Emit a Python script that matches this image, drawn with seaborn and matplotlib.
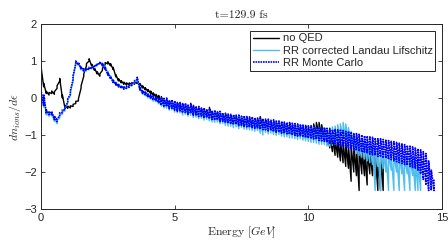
import numpy as np
import pandas as pd
import matplotlib
matplotlib.use('Agg')
import matplotlib.pyplot as plt
import seaborn as sns

# energy bins [GeV], 0.1 GeV wide
energy = np.round(np.arange(148) * 0.1, 1)

# lower / upper edge of each spectrum inside every energy bin (noisy data)
noqed_lo = [
    0.80, 0.30, 0.12, 0.08, 0.12, 0.10, 0.26, 0.46, 0.00, -0.28,
    -0.28, -0.27, -0.23, -0.15, -0.08, 0.27, 0.59, 0.87, 1.00, 0.85,
    0.75, 0.65, 0.59, 0.75, 0.90, 0.92, 0.87, 0.77, 0.57, 0.46,
    0.41, 0.37, 0.35, 0.35, 0.36, 0.37, 0.39, 0.33, 0.27, 0.22,
    0.17, 0.12, 0.06, 0.02, -0.02, -0.14, -0.17, -0.19, -0.22, -0.24,
    -0.27, -0.30, -0.31, -0.34, -0.35, -0.38, -0.39, -0.42, -0.43, -0.45,
    -0.46, -0.49, -0.50, -0.52, -0.54, -0.56, -0.58, -0.60, -0.62, -0.65,
    -0.66, -0.68, -0.69, -0.71, -0.72, -0.74, -0.75, -0.77, -0.78, -0.79,
    -0.80, -0.81, -0.83, -0.84, -0.85, -0.87, -0.88, -0.90, -0.91, -0.93,
    -0.94, -0.96, -0.97, -0.99, -1.00, -1.02, -1.03, -1.05, -1.06, -1.08,
    -1.09, -1.10, -1.05, -1.00, -0.98, -1.05, -1.15, -1.25, -1.35, -1.45,
    -1.55, -1.60, -1.70, -1.75, -1.85, -1.90, -2.25, -2.00, -2.10, -2.50,
    -2.05, -2.10, -2.35, -2.05, -2.10, -2.20, -2.50, -2.50, -2.50,
]
noqed_hi = [
    0.86, 0.40, 0.18, 0.15, 0.19, 0.17, 0.33, 0.53, 0.08, -0.20,
    -0.22, -0.21, -0.17, -0.09, -0.02, 0.33, 0.65, 0.93, 1.06, 0.91,
    0.81, 0.71, 0.65, 0.81, 0.96, 0.98, 0.93, 0.83, 0.63, 0.52,
    0.47, 0.43, 0.41, 0.41, 0.42, 0.43, 0.45, 0.39, 0.33, 0.28,
    0.23, 0.19, 0.14, 0.10, 0.07, 0.04, -0.04, -0.05, -0.08, -0.10,
    -0.12, -0.14, -0.16, -0.18, -0.19, -0.21, -0.14, -0.24, -0.25, -0.26,
    -0.29, -0.30, -0.32, -0.25, -0.36, -0.37, -0.39, -0.41, -0.43, -0.45,
    -0.47, -0.48, -0.49, -0.50, -0.51, -0.52, -0.53, -0.54, -0.55, -0.56,
    -0.57, -0.57, -0.50, -0.58, -0.61, -0.62, -0.64, -0.65, -0.66, -0.68,
    -0.69, -0.70, -0.71, -0.73, -0.74, -0.75, -0.76, -0.78, -0.79, -0.80,
    -0.81, -0.74, -0.70, -0.66, -0.66, -0.72, -0.80, -0.90, -1.00, -1.05,
    -1.10, -1.12, -1.15, -1.18, -1.20, -1.25, -1.28, -1.30, -1.32, -1.35,
    -1.38, -1.40, -1.42, -1.45, -1.48, -1.50, -1.55, -1.60, -1.70,
]

ll_lo = [
    -0.75, -0.25, -0.46, -0.50, -0.48, -0.63, -0.70, -0.55, -0.44, -0.35,
    -0.15, 0.06, 0.45, 0.90, 0.88, 0.76, 0.71, 0.73, 0.76, 0.79,
    0.82, 0.87, 0.91, 0.88, 0.80, 0.66, 0.54, 0.43, 0.37, 0.32,
    0.27, 0.24, 0.25, 0.28, 0.33, 0.40, 0.47, 0.20, 0.10, 0.06,
    0.00, -0.03, -0.09, -0.10, -0.16, -0.22, -0.27, -0.28, -0.33, -0.32,
    -0.38, -0.40, -0.40, -0.46, -0.44, -0.49, -0.47, -0.53, -0.52, -0.56,
    -0.55, -0.60, -0.58, -0.62, -0.65, -0.66, -0.65, -0.70, -0.69, -0.74,
    -0.76, -0.76, -0.80, -0.78, -0.83, -0.80, -0.84, -0.85, -0.86, -0.88,
    -0.90, -0.88, -0.95, -1.00, -0.93, -0.97, -0.95, -0.99, -1.01, -0.99,
    -1.03, -1.05, -1.05, -1.08, -1.08, -1.10, -1.12, -1.10, -1.14, -1.16,
    -1.17, -1.20, -1.20, -1.22, -1.25, -1.25, -1.26, -1.30, -1.30, -1.28,
    -1.25, -1.20, -1.15, -1.10, -1.12, -1.20, -1.30, -1.40, -1.50, -1.55,
    -1.60, -1.65, -1.70, -1.75, -1.80, -2.50, -1.85, -2.50, -1.90, -2.00,
    -2.50, -1.95, -2.50, -2.00, -2.50, -2.05, -2.50, -2.05, -2.50, -2.10,
    -2.50, -2.50, -2.50,
]
ll_hi = [
    0.15, 0.05, -0.36, -0.40, -0.40, -0.54, -0.60, -0.45, -0.36, -0.26,
    -0.05, 0.16, 0.55, 0.98, 0.94, 0.82, 0.77, 0.79, 0.82, 0.85,
    0.88, 0.93, 0.97, 0.94, 0.86, 0.72, 0.60, 0.49, 0.43, 0.38,
    0.33, 0.30, 0.31, 0.34, 0.39, 0.46, 0.53, 0.28, 0.18, 0.14,
    0.08, 0.05, 0.00, 0.00, -0.04, 0.00, -0.04, -0.03, -0.09, -0.08,
    -0.12, -0.15, -0.15, -0.19, -0.18, -0.22, -0.21, -0.24, -0.27, -0.27,
    -0.30, -0.31, -0.34, -0.33, -0.37, -0.37, -0.40, -0.40, -0.44, -0.45,
    -0.47, -0.48, -0.49, -0.50, -0.50, -0.52, -0.52, -0.54, -0.55, -0.55,
    -0.57, -0.58, -0.58, -0.60, -0.61, -0.61, -0.64, -0.63, -0.66, -0.66,
    -0.67, -0.69, -0.70, -0.70, -0.72, -0.72, -0.74, -0.74, -0.76, -0.77,
    -0.78, -0.78, -0.78, -0.80, -0.80, -0.82, -0.80, -0.82, -0.80, -0.78,
    -0.76, -0.72, -0.70, -0.66, -0.70, -0.80, -0.90, -0.95, -1.00, -1.05,
    -1.10, -1.15, -1.20, -1.22, -1.30, -1.35, -1.40, -1.42, -1.45, -1.45,
    -1.50, -1.50, -1.50, -1.52, -1.55, -1.55, -1.58, -1.60, -1.60, -1.62,
    -1.65, -1.70, -1.80,
]

mc_lo = [
    -0.78, -0.20, -0.42, -0.45, -0.45, -0.58, -0.64, -0.50, -0.40, -0.32,
    -0.12, 0.10, 0.50, 0.93, 0.90, 0.78, 0.73, 0.74, 0.77, 0.79,
    0.83, 0.87, 0.92, 0.87, 0.77, 0.62, 0.52, 0.42, 0.35, 0.30,
    0.27, 0.24, 0.26, 0.29, 0.34, 0.41, 0.50, 0.22, 0.13, 0.09,
    0.03, 0.00, -0.05, -0.07, -0.12, -0.19, -0.24, -0.23, -0.29, -0.28,
    -0.33, -0.36, -0.35, -0.40, -0.39, -0.44, -0.42, -0.47, -0.46, -0.50,
    -0.49, -0.54, -0.53, -0.56, -0.58, -0.60, -0.59, -0.64, -0.63, -0.67,
    -0.69, -0.70, -0.72, -0.71, -0.75, -0.74, -0.77, -0.78, -0.79, -0.80,
    -0.82, -0.81, -0.85, -0.86, -0.86, -0.89, -0.88, -0.91, -0.93, -0.92,
    -0.95, -0.96, -0.97, -0.98, -1.00, -1.01, -1.03, -1.02, -1.05, -1.07,
    -1.08, -1.10, -1.11, -1.12, -1.15, -1.16, -1.17, -1.20, -1.22, -1.23,
    -1.26, -1.27, -1.30, -1.31, -1.33, -1.35, -1.38, -1.40, -1.42, -1.44,
    -1.47, -1.48, -1.50, -1.52, -1.54, -1.55, -1.58, -1.59, -1.62, -1.63,
    -1.66, -1.67, -1.70, -1.72, -1.75, -1.77, -1.80, -1.82, -1.85, -1.88,
    -1.90, -1.95, -2.05, -2.20, -2.35, -2.50, -2.50, -2.50,
]
mc_hi = [
    0.20, 0.10, -0.32, -0.36, -0.36, -0.48, -0.55, -0.40, -0.32, -0.24,
    -0.02, 0.20, 0.60, 1.00, 0.96, 0.84, 0.79, 0.80, 0.83, 0.85,
    0.89, 0.93, 0.98, 0.93, 0.83, 0.68, 0.58, 0.48, 0.41, 0.36,
    0.33, 0.30, 0.32, 0.35, 0.40, 0.47, 0.56, 0.30, 0.20, 0.17,
    0.11, 0.09, 0.04, 0.03, 0.00, 0.02, -0.01, 0.00, -0.06, -0.05,
    -0.08, -0.12, -0.12, -0.15, -0.14, -0.19, -0.17, -0.20, -0.24, -0.23,
    -0.27, -0.27, -0.31, -0.29, -0.34, -0.33, -0.37, -0.36, -0.41, -0.41,
    -0.43, -0.44, -0.45, -0.46, -0.46, -0.49, -0.48, -0.50, -0.51, -0.51,
    -0.53, -0.54, -0.54, -0.56, -0.57, -0.57, -0.60, -0.59, -0.62, -0.62,
    -0.63, -0.65, -0.66, -0.66, -0.68, -0.69, -0.70, -0.71, -0.73, -0.74,
    -0.75, -0.76, -0.76, -0.78, -0.79, -0.80, -0.80, -0.82, -0.83, -0.85,
    -0.85, -0.86, -0.87, -0.88, -0.90, -0.90, -0.92, -0.95, -0.96, -0.98,
    -1.00, -1.02, -1.03, -1.05, -1.06, -1.08, -1.10, -1.10, -1.12, -1.14,
    -1.15, -1.17, -1.18, -1.20, -1.22, -1.24, -1.26, -1.28, -1.30, -1.32,
    -1.35, -1.37, -1.40, -1.45, -1.50, -1.70, -1.95, -2.20,
]

labels = ['no QED', 'RR corrected Landau Lifschitz', 'RR Monte Carlo']


def spectrum(lo, hi):
    # walk low -> high edge in every bin so the noise shows up as a band
    n = len(lo)
    return pd.DataFrame({'E': np.repeat(energy[:n], 2),
                         'dn': np.column_stack([lo, hi]).ravel()})


df_noqed = spectrum(noqed_lo, noqed_hi)
df_ll = spectrum(ll_lo, ll_hi)
df_mc = spectrum(mc_lo, mc_hi)

sns.set_style('ticks')
plt.rcParams['font.family'] = ['Liberation Sans', 'DejaVu Sans']
plt.rcParams['mathtext.fontset'] = 'cm'

fig = plt.figure(figsize=(4.48, 2.47), dpi=100)
ax = fig.add_axes([41 / 448, 1 - 209 / 247, 401 / 448, 185 / 247])

sns.lineplot(data=df_noqed, x='E', y='dn', ax=ax, color='black', lw=1.0,
             sort=False, estimator=None, label=labels[0])
sns.lineplot(data=df_ll, x='E', y='dn', ax=ax, color='#4DBEEE', lw=1.0,
             sort=False, estimator=None, label=labels[1])
sns.lineplot(data=df_mc, x='E', y='dn', ax=ax, color='#0000FF', lw=1.2,
             linestyle=(0, (1.0, 0.5)), sort=False, estimator=None,
             label=labels[2])

ax.set_xlim(0, 15)
ax.set_ylim(-3, 2)
ax.set_xticks([0, 5, 10, 15])
ax.set_yticks([-3, -2, -1, 0, 1, 2])
ax.tick_params(direction='in', length=3, width=0.6, top=True, right=True,
               labelsize=8, colors='#262626', pad=3)
for s in ax.spines.values():
    s.set_linewidth(0.7)
    s.set_color('#262626')

ax.set_title('t=129.9 fs', fontsize=8.5, pad=4, family='cmr10')
ax.set_xlabel(r'$\mathrm{Energy}\ [GeV]$', fontsize=8.5, labelpad=1)
ax.set_ylabel(r'$dn_{ions}/d\epsilon$', fontsize=8.5, labelpad=1)

leg = ax.legend(loc='upper right', fontsize=8, frameon=True, fancybox=False,
                framealpha=1, edgecolor='#262626', borderpad=0.25,
                labelspacing=0.2, handlelength=2.4, handletextpad=0.3,
                borderaxespad=0.6)
leg.get_frame().set_linewidth(0.7)

fig.savefig('out.png', dpi=100)
